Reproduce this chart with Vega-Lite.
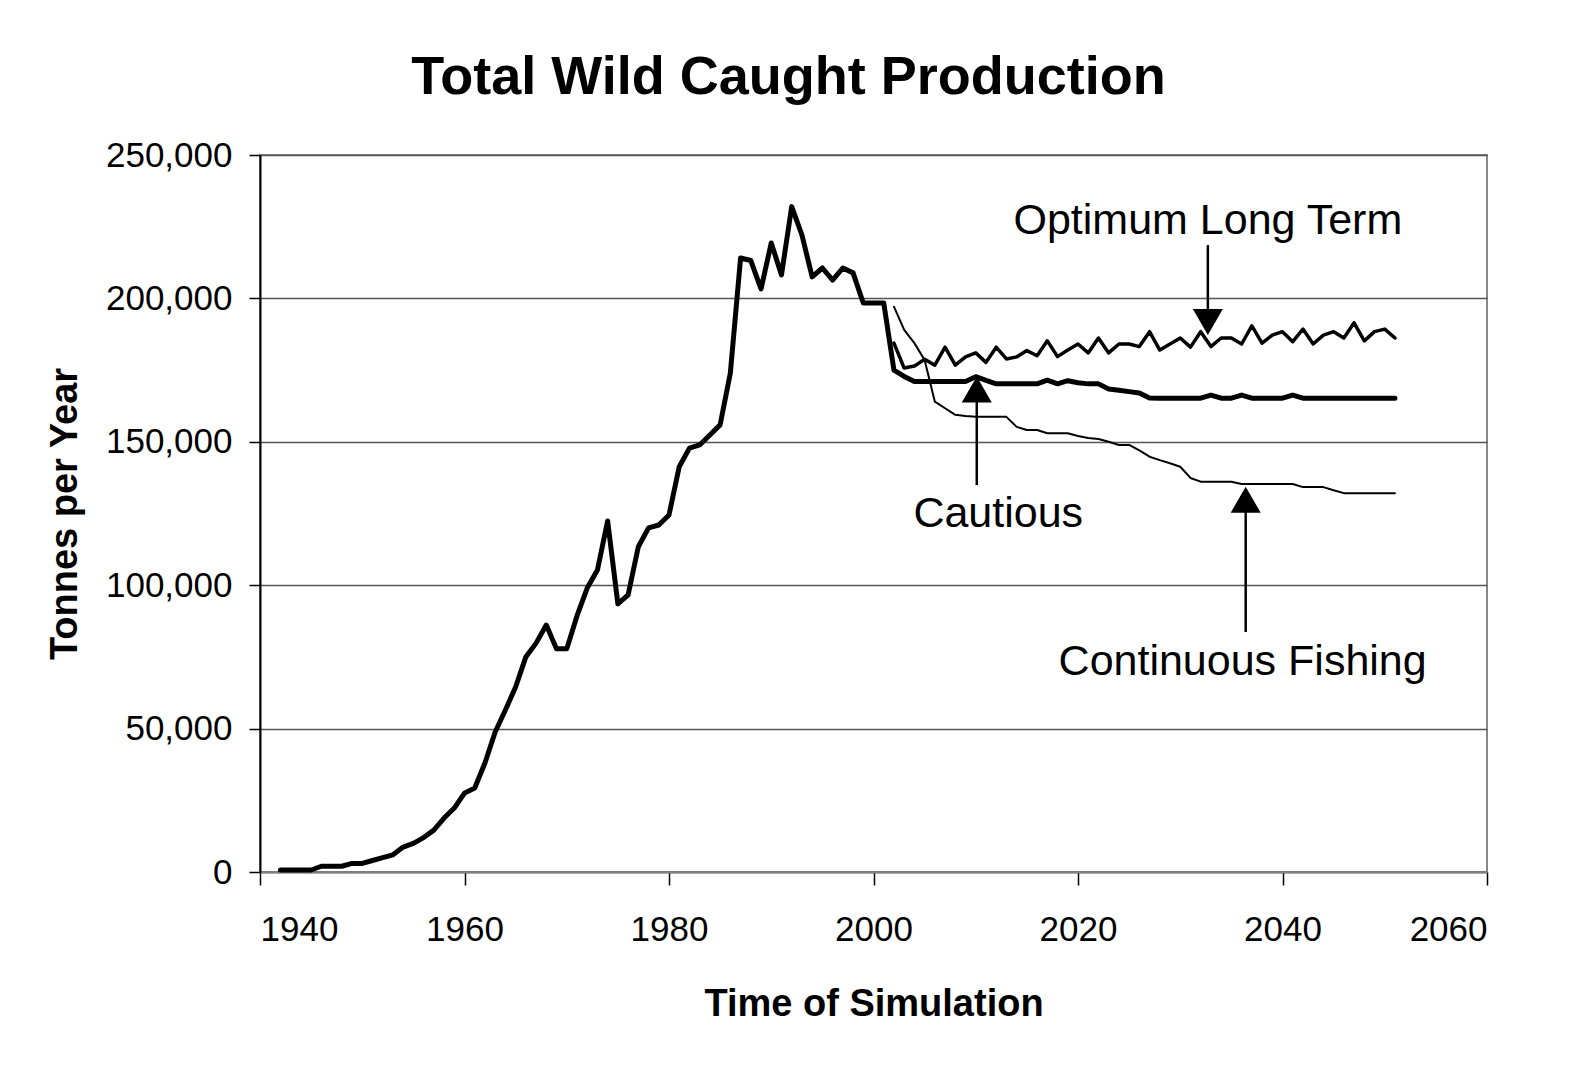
{
  "$schema": "https://vega.github.io/schema/vega-lite/v6.json",
  "width": 1227,
  "height": 717,
  "autosize": {"type": "none"},
  "padding": {"left": 260, "top": 155, "right": 83, "bottom": 197},
  "background": "white",
  "title": {
    "text": "Total Wild Caught Production",
    "font": "Liberation Sans",
    "fontSize": 54,
    "fontWeight": "bold",
    "color": "black",
    "anchor": "middle",
    "dx": -85,
    "offset": -10,
    "baseline": "alphabetic"
  },
  "config": {
    "view": {"stroke": "#888888", "strokeWidth": 2},
    "axis": {
      "labelFont": "Liberation Sans",
      "labelFontSize": 35,
      "labelColor": "black",
      "titleFont": "Liberation Sans",
      "titleFontSize": 38,
      "titleFontWeight": "bold",
      "titleColor": "black",
      "tickColor": "black",
      "tickWidth": 1.5,
      "zindex": 1
    },
    "axisX": {
      "grid": false,
      "tickSize": 13,
      "domainColor": "#808080",
      "domainWidth": 2,
      "labelPadding": 27,
      "titlePadding": 38
    },
    "axisY": {
      "grid": true,
      "gridColor": "#555555",
      "gridWidth": 1.5,
      "domainColor": "black",
      "domainWidth": 2,
      "tickSize": 11,
      "labelPadding": 17,
      "titlePadding": 21
    }
  },
  "datasets": {
    "series": [
      {"year":1942,"value":700,"series":"Cautious"},
      {"year":1943,"value":700,"series":"Cautious"},
      {"year":1944,"value":700,"series":"Cautious"},
      {"year":1945,"value":700,"series":"Cautious"},
      {"year":1946,"value":2000,"series":"Cautious"},
      {"year":1947,"value":2000,"series":"Cautious"},
      {"year":1948,"value":2000,"series":"Cautious"},
      {"year":1949,"value":3000,"series":"Cautious"},
      {"year":1950,"value":3000,"series":"Cautious"},
      {"year":1951,"value":4000,"series":"Cautious"},
      {"year":1952,"value":5000,"series":"Cautious"},
      {"year":1953,"value":6000,"series":"Cautious"},
      {"year":1954,"value":8700,"series":"Cautious"},
      {"year":1955,"value":10000,"series":"Cautious"},
      {"year":1956,"value":12000,"series":"Cautious"},
      {"year":1957,"value":14600,"series":"Cautious"},
      {"year":1958,"value":18800,"series":"Cautious"},
      {"year":1959,"value":22300,"series":"Cautious"},
      {"year":1960,"value":27500,"series":"Cautious"},
      {"year":1961,"value":29300,"series":"Cautious"},
      {"year":1962,"value":38000,"series":"Cautious"},
      {"year":1963,"value":48800,"series":"Cautious"},
      {"year":1964,"value":56500,"series":"Cautious"},
      {"year":1965,"value":64500,"series":"Cautious"},
      {"year":1966,"value":75000,"series":"Cautious"},
      {"year":1967,"value":79800,"series":"Cautious"},
      {"year":1968,"value":86100,"series":"Cautious"},
      {"year":1969,"value":77800,"series":"Cautious"},
      {"year":1970,"value":77800,"series":"Cautious"},
      {"year":1971,"value":89300,"series":"Cautious"},
      {"year":1972,"value":99000,"series":"Cautious"},
      {"year":1973,"value":105300,"series":"Cautious"},
      {"year":1974,"value":122400,"series":"Cautious"},
      {"year":1975,"value":93500,"series":"Cautious"},
      {"year":1976,"value":96600,"series":"Cautious"},
      {"year":1977,"value":113400,"series":"Cautious"},
      {"year":1978,"value":120000,"series":"Cautious"},
      {"year":1979,"value":121000,"series":"Cautious"},
      {"year":1980,"value":124500,"series":"Cautious"},
      {"year":1981,"value":141300,"series":"Cautious"},
      {"year":1982,"value":147800,"series":"Cautious"},
      {"year":1983,"value":148900,"series":"Cautious"},
      {"year":1984,"value":152400,"series":"Cautious"},
      {"year":1985,"value":155900,"series":"Cautious"},
      {"year":1986,"value":174000,"series":"Cautious"},
      {"year":1987,"value":214100,"series":"Cautious"},
      {"year":1988,"value":213200,"series":"Cautious"},
      {"year":1989,"value":203300,"series":"Cautious"},
      {"year":1990,"value":219300,"series":"Cautious"},
      {"year":1991,"value":208200,"series":"Cautious"},
      {"year":1992,"value":232000,"series":"Cautious"},
      {"year":1993,"value":222100,"series":"Cautious"},
      {"year":1994,"value":207500,"series":"Cautious"},
      {"year":1995,"value":210600,"series":"Cautious"},
      {"year":1996,"value":206400,"series":"Cautious"},
      {"year":1997,"value":210600,"series":"Cautious"},
      {"year":1998,"value":208900,"series":"Cautious"},
      {"year":1999,"value":198400,"series":"Cautious"},
      {"year":2000,"value":198400,"series":"Cautious"},
      {"year":2001,"value":198400,"series":"Cautious"},
      {"year":2002,"value":175000,"series":"Cautious"},
      {"year":2003,"value":172800,"series":"Cautious"},
      {"year":2004,"value":171000,"series":"Cautious"},
      {"year":2005,"value":171000,"series":"Cautious"},
      {"year":2006,"value":171000,"series":"Cautious"},
      {"year":2007,"value":171000,"series":"Cautious"},
      {"year":2008,"value":171000,"series":"Cautious"},
      {"year":2009,"value":171000,"series":"Cautious"},
      {"year":2010,"value":172700,"series":"Cautious"},
      {"year":2011,"value":171400,"series":"Cautious"},
      {"year":2012,"value":170200,"series":"Cautious"},
      {"year":2013,"value":170200,"series":"Cautious"},
      {"year":2014,"value":170200,"series":"Cautious"},
      {"year":2015,"value":170200,"series":"Cautious"},
      {"year":2016,"value":170200,"series":"Cautious"},
      {"year":2017,"value":171500,"series":"Cautious"},
      {"year":2018,"value":170200,"series":"Cautious"},
      {"year":2019,"value":171300,"series":"Cautious"},
      {"year":2020,"value":170600,"series":"Cautious"},
      {"year":2021,"value":170200,"series":"Cautious"},
      {"year":2022,"value":170200,"series":"Cautious"},
      {"year":2023,"value":168400,"series":"Cautious"},
      {"year":2024,"value":168000,"series":"Cautious"},
      {"year":2025,"value":167500,"series":"Cautious"},
      {"year":2026,"value":167000,"series":"Cautious"},
      {"year":2027,"value":165300,"series":"Cautious"},
      {"year":2028,"value":165200,"series":"Cautious"},
      {"year":2029,"value":165200,"series":"Cautious"},
      {"year":2030,"value":165200,"series":"Cautious"},
      {"year":2031,"value":165200,"series":"Cautious"},
      {"year":2032,"value":165200,"series":"Cautious"},
      {"year":2033,"value":166300,"series":"Cautious"},
      {"year":2034,"value":165200,"series":"Cautious"},
      {"year":2035,"value":165200,"series":"Cautious"},
      {"year":2036,"value":166300,"series":"Cautious"},
      {"year":2037,"value":165200,"series":"Cautious"},
      {"year":2038,"value":165200,"series":"Cautious"},
      {"year":2039,"value":165200,"series":"Cautious"},
      {"year":2040,"value":165200,"series":"Cautious"},
      {"year":2041,"value":166300,"series":"Cautious"},
      {"year":2042,"value":165200,"series":"Cautious"},
      {"year":2043,"value":165200,"series":"Cautious"},
      {"year":2044,"value":165200,"series":"Cautious"},
      {"year":2045,"value":165200,"series":"Cautious"},
      {"year":2046,"value":165200,"series":"Cautious"},
      {"year":2047,"value":165200,"series":"Cautious"},
      {"year":2048,"value":165200,"series":"Cautious"},
      {"year":2049,"value":165200,"series":"Cautious"},
      {"year":2050,"value":165200,"series":"Cautious"},
      {"year":2051,"value":165200,"series":"Cautious"},
      {"year":2002,"value":197100,"series":"Continuous Fishing"},
      {"year":2003,"value":189000,"series":"Continuous Fishing"},
      {"year":2004,"value":184400,"series":"Continuous Fishing"},
      {"year":2005,"value":178500,"series":"Continuous Fishing"},
      {"year":2006,"value":164000,"series":"Continuous Fishing"},
      {"year":2007,"value":161700,"series":"Continuous Fishing"},
      {"year":2008,"value":159400,"series":"Continuous Fishing"},
      {"year":2009,"value":159000,"series":"Continuous Fishing"},
      {"year":2010,"value":158700,"series":"Continuous Fishing"},
      {"year":2011,"value":158700,"series":"Continuous Fishing"},
      {"year":2012,"value":158700,"series":"Continuous Fishing"},
      {"year":2013,"value":158700,"series":"Continuous Fishing"},
      {"year":2014,"value":155200,"series":"Continuous Fishing"},
      {"year":2015,"value":154100,"series":"Continuous Fishing"},
      {"year":2016,"value":154100,"series":"Continuous Fishing"},
      {"year":2017,"value":153000,"series":"Continuous Fishing"},
      {"year":2018,"value":153000,"series":"Continuous Fishing"},
      {"year":2019,"value":153000,"series":"Continuous Fishing"},
      {"year":2020,"value":152000,"series":"Continuous Fishing"},
      {"year":2021,"value":151300,"series":"Continuous Fishing"},
      {"year":2022,"value":151000,"series":"Continuous Fishing"},
      {"year":2023,"value":150000,"series":"Continuous Fishing"},
      {"year":2024,"value":148900,"series":"Continuous Fishing"},
      {"year":2025,"value":148900,"series":"Continuous Fishing"},
      {"year":2026,"value":147000,"series":"Continuous Fishing"},
      {"year":2027,"value":144800,"series":"Continuous Fishing"},
      {"year":2028,"value":143600,"series":"Continuous Fishing"},
      {"year":2029,"value":142500,"series":"Continuous Fishing"},
      {"year":2030,"value":141300,"series":"Continuous Fishing"},
      {"year":2031,"value":137400,"series":"Continuous Fishing"},
      {"year":2032,"value":136100,"series":"Continuous Fishing"},
      {"year":2033,"value":136100,"series":"Continuous Fishing"},
      {"year":2034,"value":136100,"series":"Continuous Fishing"},
      {"year":2035,"value":136100,"series":"Continuous Fishing"},
      {"year":2036,"value":135300,"series":"Continuous Fishing"},
      {"year":2037,"value":135300,"series":"Continuous Fishing"},
      {"year":2038,"value":135300,"series":"Continuous Fishing"},
      {"year":2039,"value":135300,"series":"Continuous Fishing"},
      {"year":2040,"value":135300,"series":"Continuous Fishing"},
      {"year":2041,"value":135300,"series":"Continuous Fishing"},
      {"year":2042,"value":134200,"series":"Continuous Fishing"},
      {"year":2043,"value":134200,"series":"Continuous Fishing"},
      {"year":2044,"value":134200,"series":"Continuous Fishing"},
      {"year":2045,"value":133100,"series":"Continuous Fishing"},
      {"year":2046,"value":132100,"series":"Continuous Fishing"},
      {"year":2047,"value":132100,"series":"Continuous Fishing"},
      {"year":2048,"value":132100,"series":"Continuous Fishing"},
      {"year":2049,"value":132100,"series":"Continuous Fishing"},
      {"year":2050,"value":132100,"series":"Continuous Fishing"},
      {"year":2051,"value":132100,"series":"Continuous Fishing"},
      {"year":2002,"value":184400,"series":"Optimum Long Term"},
      {"year":2003,"value":175700,"series":"Optimum Long Term"},
      {"year":2004,"value":176400,"series":"Optimum Long Term"},
      {"year":2005,"value":178800,"series":"Optimum Long Term"},
      {"year":2006,"value":176700,"series":"Optimum Long Term"},
      {"year":2007,"value":183000,"series":"Optimum Long Term"},
      {"year":2008,"value":176700,"series":"Optimum Long Term"},
      {"year":2009,"value":179600,"series":"Optimum Long Term"},
      {"year":2010,"value":181000,"series":"Optimum Long Term"},
      {"year":2011,"value":177700,"series":"Optimum Long Term"},
      {"year":2012,"value":183000,"series":"Optimum Long Term"},
      {"year":2013,"value":178900,"series":"Optimum Long Term"},
      {"year":2014,"value":179600,"series":"Optimum Long Term"},
      {"year":2015,"value":181800,"series":"Optimum Long Term"},
      {"year":2016,"value":180000,"series":"Optimum Long Term"},
      {"year":2017,"value":185200,"series":"Optimum Long Term"},
      {"year":2018,"value":179700,"series":"Optimum Long Term"},
      {"year":2019,"value":182000,"series":"Optimum Long Term"},
      {"year":2020,"value":184100,"series":"Optimum Long Term"},
      {"year":2021,"value":181000,"series":"Optimum Long Term"},
      {"year":2022,"value":186200,"series":"Optimum Long Term"},
      {"year":2023,"value":181000,"series":"Optimum Long Term"},
      {"year":2024,"value":184100,"series":"Optimum Long Term"},
      {"year":2025,"value":184100,"series":"Optimum Long Term"},
      {"year":2026,"value":183200,"series":"Optimum Long Term"},
      {"year":2027,"value":188400,"series":"Optimum Long Term"},
      {"year":2028,"value":182000,"series":"Optimum Long Term"},
      {"year":2029,"value":184100,"series":"Optimum Long Term"},
      {"year":2030,"value":186200,"series":"Optimum Long Term"},
      {"year":2031,"value":183000,"series":"Optimum Long Term"},
      {"year":2032,"value":188400,"series":"Optimum Long Term"},
      {"year":2033,"value":183200,"series":"Optimum Long Term"},
      {"year":2034,"value":186200,"series":"Optimum Long Term"},
      {"year":2035,"value":186200,"series":"Optimum Long Term"},
      {"year":2036,"value":184100,"series":"Optimum Long Term"},
      {"year":2037,"value":190400,"series":"Optimum Long Term"},
      {"year":2038,"value":184400,"series":"Optimum Long Term"},
      {"year":2039,"value":187200,"series":"Optimum Long Term"},
      {"year":2040,"value":188400,"series":"Optimum Long Term"},
      {"year":2041,"value":184900,"series":"Optimum Long Term"},
      {"year":2042,"value":189300,"series":"Optimum Long Term"},
      {"year":2043,"value":184100,"series":"Optimum Long Term"},
      {"year":2044,"value":187200,"series":"Optimum Long Term"},
      {"year":2045,"value":188400,"series":"Optimum Long Term"},
      {"year":2046,"value":186200,"series":"Optimum Long Term"},
      {"year":2047,"value":191500,"series":"Optimum Long Term"},
      {"year":2048,"value":185200,"series":"Optimum Long Term"},
      {"year":2049,"value":188400,"series":"Optimum Long Term"},
      {"year":2050,"value":189300,"series":"Optimum Long Term"},
      {"year":2051,"value":186200,"series":"Optimum Long Term"}
    ],
    "arrows": [
      {"year": 2032.7, "from": 218600, "to": 194000, "head": 191800, "dir": "down"},
      {"year": 2010.1, "from": 134900, "to": 166000, "head": 168200, "dir": "up"},
      {"year": 2036.4, "from": 83700, "to": 127500, "head": 129800, "dir": "up"}
    ],
    "labels": [
      {"label": "Optimum Long Term", "year": 2032.7, "value": 222500},
      {"label": "Cautious", "year": 2012.2, "value": 120300},
      {"label": "Continuous Fishing", "year": 2036.1, "value": 68700}
    ]
  },
  "layer": [
    {
      "data": {"name": "series"},
      "mark": {"type": "line", "color": "black", "strokeJoin": "round", "strokeCap": "round"},
      "encoding": {
        "x": {
          "field": "year", "type": "quantitative",
          "scale": {"domain": [1940, 2060], "nice": false, "zero": false},
          "axis": {"values": [1940, 1960, 1980, 2000, 2020, 2040, 2060], "format": "d"},
          "title": "Time of Simulation"
        },
        "y": {
          "field": "value", "type": "quantitative",
          "scale": {"domain": [0, 250000], "nice": false},
          "axis": {"values": [0, 50000, 100000, 150000, 200000, 250000], "format": ",d"},
          "title": "Tonnes per Year"
        },
        "detail": {"field": "series", "type": "nominal"},
        "strokeWidth": {
          "field": "series", "type": "nominal",
          "scale": {"domain": ["Cautious", "Optimum Long Term", "Continuous Fishing"], "range": [5, 2, 2]},
          "legend": null
        }
      }
    },
    {
      "data": {"name": "arrows"},
      "mark": {"type": "rule", "color": "black", "strokeWidth": 2.5},
      "encoding": {
        "x": {"field": "year", "type": "quantitative", "title": "Time of Simulation"},
        "y": {"field": "from", "type": "quantitative", "title": "Tonnes per Year"},
        "y2": {"field": "to"}
      }
    },
    {
      "data": {"name": "arrows"},
      "mark": {"type": "point", "filled": true, "color": "black", "opacity": 1, "size": 900, "strokeWidth": 0},
      "encoding": {
        "x": {"field": "year", "type": "quantitative", "title": "Time of Simulation"},
        "y": {"field": "head", "type": "quantitative", "title": "Tonnes per Year"},
        "shape": {
          "field": "dir", "type": "nominal",
          "scale": {"domain": ["up", "down"], "range": ["triangle-up", "triangle-down"]},
          "legend": null
        }
      }
    },
    {
      "data": {"name": "labels"},
      "mark": {"type": "text", "font": "Liberation Sans", "fontSize": 43, "color": "black", "align": "center", "baseline": "alphabetic"},
      "encoding": {
        "x": {"field": "year", "type": "quantitative", "title": "Time of Simulation"},
        "y": {"field": "value", "type": "quantitative", "title": "Tonnes per Year"},
        "text": {"field": "label", "type": "nominal"}
      }
    }
  ]
}
